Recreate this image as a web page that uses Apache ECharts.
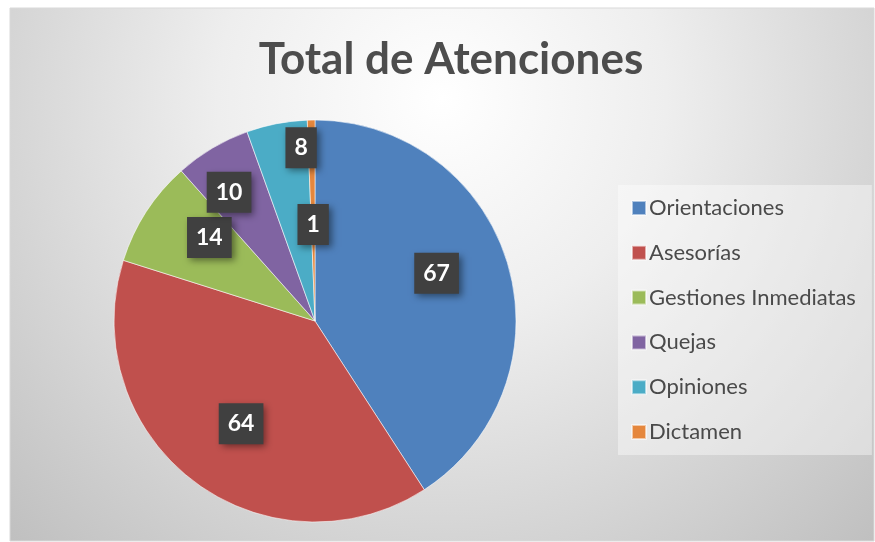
<!DOCTYPE html>
<html>
<head>
<meta charset="utf-8">
<script src="https://cdn.jsdelivr.net/npm/echarts@6/dist/echarts.min.js"></script>
<style>
    html, body { margin: 0; padding: 0; background: #fff; }
    #main { width: 875px; height: 542px; }
</style>
</head>
<body>
<div id="main"></div>
<script>
// datos del grafico
var categories = ['Orientaciones', 'Asesorías', 'Gestiones Inmediatas', 'Quejas', 'Opiniones', 'Dictamen'];
var values = [67, 64, 14, 10, 8, 1];
var colors = ['#4f81bd', '#c0504d', '#9bbb59', '#8064a2', '#4bacc6', '#e5873d'];

// posicion de cada etiqueta: fraccion del radio y desplazamiento angular (grados)
var labelFrac = [0.65, 0.63, 0.67, 0.77, 0.865, 0.48];
var labelShift = [-5, -1.6, 5.4, -3, 6.4, 0];

var pieCenter = [315, 321];
var pieRadius = 201;

var total = values.reduce(function(a, b){ return a + b; }, 0);

var myChart = echarts.init(document.getElementById('main'));

var option = {
    backgroundColor: '#ffffff',
    animation: false,
    color: colors,
    graphic: [{
        type: 'rect',
        z: -10,
        shape: { x: 10, y: 8, width: 864, height: 533 },
        style: {
            fill: new echarts.graphic.RadialGradient(0.5, 0.17, 1.2, [
                { offset: 0, color: '#ffffff' },
                { offset: 0.35, color: '#eeeeee' },
                { offset: 1, color: '#bdbdbd' }
            ]),
            stroke: '#d9d9d9',
            lineWidth: 1
        }
    }],
    title: {
        text: 'Total de Atenciones',
        left: 446,
        top: 33,
        textAlign: 'center',
        textStyle: {
            fontFamily: 'Lato',
            fontWeight: 'bold',
            fontSize: 44,
            color: '#4d4d4d'
        }
    },
    legend: {
        orient: 'vertical',
        left: 618,
        top: 185,
        padding: [12, 16, 12, 13],
        backgroundColor: 'rgba(255,255,255,0.4)',
        itemWidth: 14,
        itemHeight: 14,
        itemGap: 22.8,
        icon: 'rect',
        data: categories,
        textStyle: {
            fontFamily: 'Lato',
            fontSize: 22,
            color: '#4a4a4a',
            lineHeight: 20,
            padding: [0, 0, 0, -2]
        }
    },
    series: [{
        type: 'pie',
        center: pieCenter,
        radius: pieRadius,
        startAngle: 90,
        clockwise: true,
        avoidLabelOverlap: false,
        itemStyle: {
            borderColor: 'rgba(255,255,255,0.55)',
            borderWidth: 1
        },
        label: {
            show: true,
            position: 'inside',
            formatter: '{c}',
            fontFamily: 'Lato',
            fontWeight: 'bold',
            fontSize: 23,
            lineHeight: 25,
            color: '#ffffff',
            backgroundColor: '#404040',
            padding: [8, 9, 8, 9],
            shadowColor: 'rgba(0,0,0,0.45)',
            shadowBlur: 7,
            shadowOffsetX: 3,
            shadowOffsetY: 3
        },
        labelLine: { show: false },
        emphasis: { disabled: true },
        labelLayout: function(params){
            var i = params.dataIndex;
            var cum = 0;
            for (var k = 0; k < i; k++) cum += values[k];
            var deg = (cum + values[i] / 2) / total * 360 + labelShift[i];
            var ang = (90 - deg) * Math.PI / 180;
            var r = pieRadius * labelFrac[i];
            return {
                x: pieCenter[0] + Math.cos(ang) * r,
                y: pieCenter[1] - Math.sin(ang) * r,
                align: 'center',
                verticalAlign: 'middle'
            };
        },
        data: categories.map(function(name, i){
            return { name: name, value: values[i] };
        })
    }]
};

myChart.setOption(option);
</script>
</body>
</html>
